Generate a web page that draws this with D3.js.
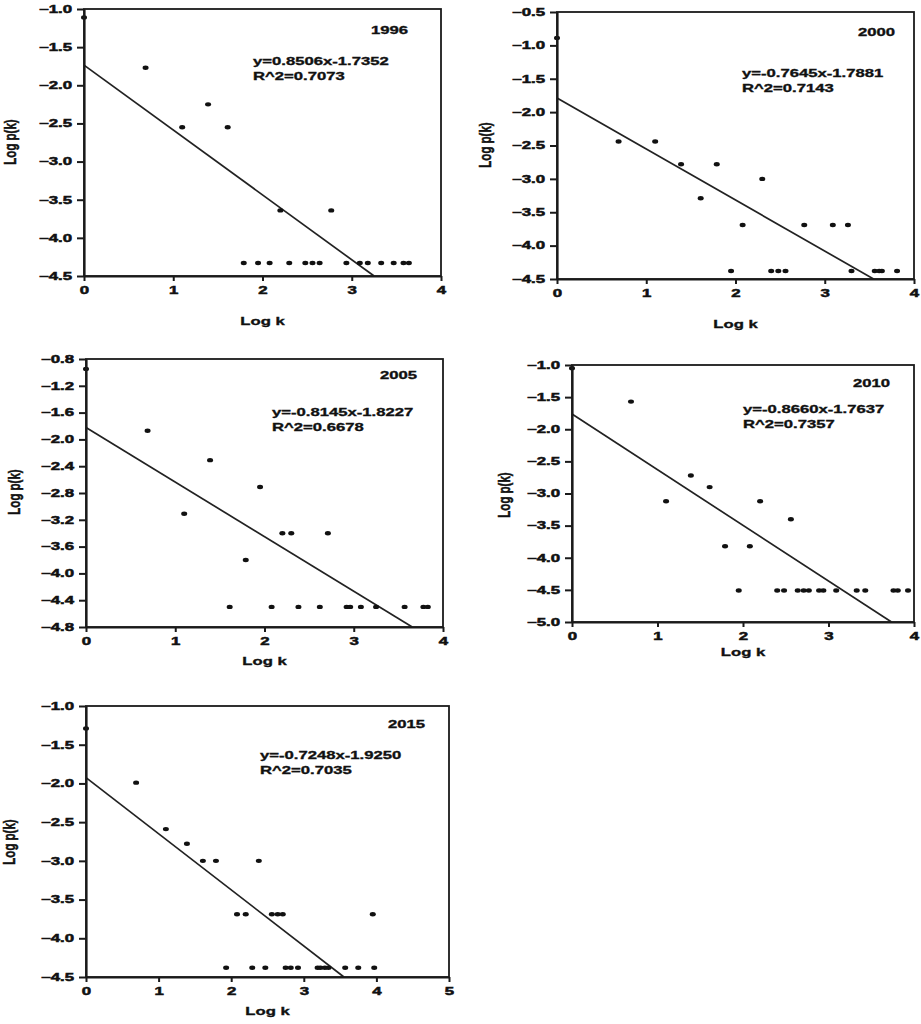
<!DOCTYPE html>
<html><head><meta charset="utf-8">
<script src="https://cdn.jsdelivr.net/npm/d3@7"></script>
<style>
body{margin:0;background:#fff}
svg{display:block}
text{font-family:"Liberation Sans",Arial,sans-serif;font-weight:bold;fill:#111;stroke:#111;stroke-width:0.35px}
</style>
</head><body>
<svg id="c" width="921" height="1024"></svg>
<script>
// ---------- DATA ----------
const years = ["1996", "2000", "2005", "2010", "2015"];
const slopes = [-0.8506, -0.7645, -0.8145, -0.8660, -0.7248];
const intercepts = [-1.7352, -1.7881, -1.8227, -1.7637, -1.9250];
const eqLabels = ["y=0.8506x-1.7352", "y=-0.7645x-1.7881", "y=-0.8145x-1.8227", "y=-0.8660x-1.7637", "y=-0.7248x-1.9250"];
const r2Labels = ["R^2=0.7073", "R^2=0.7143", "R^2=0.6678", "R^2=0.7357", "R^2=0.7035"];
const xDomains = [[0, 4], [0, 4], [0, 4], [0, 4], [0, 5]];
const yDomains = [[-4.5, -1.0], [-4.5, -0.5], [-4.8, -0.8], [-5.0, -1.0], [-4.5, -1.0]];
const xTicks = [[0, 1, 2, 3, 4], [0, 1, 2, 3, 4], [0, 1, 2, 3, 4], [0, 1, 2, 3, 4], [0, 1, 2, 3, 4, 5]];
const yTicks = [
  [-1.0, -1.5, -2.0, -2.5, -3.0, -3.5, -4.0, -4.5],
  [-0.5, -1.0, -1.5, -2.0, -2.5, -3.0, -3.5, -4.0, -4.5],
  [-0.8, -1.2, -1.6, -2.0, -2.4, -2.8, -3.2, -3.6, -4.0, -4.4, -4.8],
  [-1.0, -1.5, -2.0, -2.5, -3.0, -3.5, -4.0, -4.5, -5.0],
  [-1.0, -1.5, -2.0, -2.5, -3.0, -3.5, -4.0, -4.5]
];
const xLabel = "Log k";
const yLabel = "Log p(k)";

const x1996 = [0, 0.69, 1.10, 1.39, 1.61, 2.20, 2.77, 1.79, 1.95, 2.08, 2.30, 2.48, 2.56, 2.64, 2.94, 3.09, 3.18, 3.33, 3.47, 3.58, 3.64];
const y1996 = [-1.11, -1.77, -2.55, -2.25, -2.55, -3.64, -3.64, -4.33, -4.33, -4.33, -4.33, -4.33, -4.33, -4.33, -4.33, -4.33, -4.33, -4.33, -4.33, -4.33, -4.33];

const x2000 = [0, 0.69, 1.10, 1.39, 1.79, 1.61, 2.30, 2.08, 2.77, 3.09, 3.26, 1.95, 2.40, 2.48, 2.56, 3.30, 3.56, 3.61, 3.64, 3.81];
const y2000 = [-0.89, -2.44, -2.44, -2.78, -2.78, -3.29, -3.00, -3.69, -3.69, -3.69, -3.69, -4.38, -4.38, -4.38, -4.38, -4.38, -4.38, -4.38, -4.38, -4.38];

const x2005 = [0, 0.69, 1.39, 1.95, 1.10, 2.20, 2.30, 2.71, 1.79, 1.61, 2.08, 2.38, 2.62, 2.92, 2.96, 3.08, 3.25, 3.57, 3.78, 3.83];
const y2005 = [-0.95, -1.87, -2.31, -2.71, -3.11, -3.40, -3.40, -3.40, -3.80, -4.50, -4.50, -4.50, -4.50, -4.50, -4.50, -4.50, -4.50, -4.50, -4.50, -4.50];

const x2010 = [0, 0.69, 1.10, 1.39, 1.61, 1.79, 2.08, 2.20, 2.56, 1.95, 2.40, 2.48, 2.64, 2.71, 2.77, 2.89, 2.94, 3.09, 3.33, 3.43, 3.76, 3.81, 3.93];
const y2010 = [-1.05, -1.57, -3.12, -2.72, -2.90, -3.82, -3.82, -3.12, -3.40, -4.51, -4.51, -4.51, -4.51, -4.51, -4.51, -4.51, -4.51, -4.51, -4.51, -4.51, -4.51, -4.51, -4.51];

const x2015 = [0, 0.69, 1.10, 1.39, 1.61, 1.79, 2.38, 2.08, 2.20, 2.56, 2.64, 2.71, 3.95, 1.93, 2.29, 2.47, 2.75, 2.82, 2.92, 3.19, 3.23, 3.29, 3.34, 3.57, 3.75, 3.97];
const y2015 = [-1.29, -1.99, -2.59, -2.78, -3.00, -3.00, -3.00, -3.69, -3.69, -3.69, -3.69, -3.69, -3.69, -4.38, -4.38, -4.38, -4.38, -4.38, -4.38, -4.38, -4.38, -4.38, -4.38, -4.38, -4.38, -4.38];

const xSeries = [x1996, x2000, x2005, x2010, x2015];
const ySeries = [y1996, y2000, y2005, y2010, y2015];

// ---------- LAYOUT ----------
const frames = [
  {l: 84,  r: 441, t: 9,   b: 276, ylx: 10,  yly: 142, xlb: 325,  yearR: 408, yearB: 34,  eqX: 253, eqB: 65},
  {l: 557, r: 914, t: 12,  b: 279, ylx: 485, yly: 145, xlb: 328,  yearR: 895, yearB: 36,  eqX: 742, eqB: 77},
  {l: 86,  r: 443, t: 359, b: 627, ylx: 14,  yly: 492, xlb: 665,  yearR: 417, yearB: 379, eqX: 272, eqB: 416},
  {l: 572, r: 914, t: 365, b: 622, ylx: 504, yly: 495, xlb: 656,  yearR: 890, yearB: 387, eqX: 743, eqB: 413},
  {l: 86,  r: 449, t: 706, b: 977, ylx: 9,   yly: 842, xlb: 1015, yearR: 425, yearB: 728, eqX: 260, eqB: 759}
];
const FS = 11.5, SX = 1.45;      // label font size & horizontal stretch
const TFS = 10.5, TSX = 1.6;     // tick font
const ink = "#1a1a1a";

const svg = d3.select("#c");

frames.forEach((f, i) => {
  const x = d3.scaleLinear().domain(xDomains[i]).range([f.l, f.r]);
  const y = d3.scaleLinear().domain(yDomains[i]).range([f.b, f.t]);
  const g = svg.append("g");

  // regression line (from x=0 until it leaves the bottom of the plot)
  const m = slopes[i], c = intercepts[i];
  const yMin = yDomains[i][0];
  const xEnd = Math.min(xDomains[i][1], (yMin - c) / m);
  g.append("line")
    .attr("x1", x(0)).attr("y1", y(c))
    .attr("x2", x(xEnd)).attr("y2", y(m * xEnd + c))
    .attr("stroke", "#222").attr("stroke-width", 1.7);

  // points
  g.append("g").selectAll("ellipse")
    .data(d3.zip(xSeries[i], ySeries[i]))
    .join("ellipse")
    .attr("cx", d => x(d[0])).attr("cy", d => y(d[1]))
    .attr("rx", 3).attr("ry", 2.2)
    .attr("fill", "#111");

  // frame (top/right)
  g.append("rect")
    .attr("x", f.l).attr("y", f.t)
    .attr("width", f.r - f.l).attr("height", f.b - f.t)
    .attr("fill", "none").attr("stroke", ink).attr("stroke-width", 1.8);

  // axes
  const ax = g.append("g").attr("transform", `translate(0,${f.b})`)
    .call(d3.axisBottom(x).tickValues(xTicks[i]).tickFormat(d3.format("d"))
      .tickSize(5).tickSizeOuter(0).tickPadding(6));
  const ay = g.append("g").attr("transform", `translate(${f.l},0)`)
    .call(d3.axisLeft(y).tickValues(yTicks[i]).tickFormat(d3.format(".1f"))
      .tickSize(7).tickSizeOuter(0));
  [ax, ay].forEach(a => {
    a.select(".domain").attr("stroke", ink).attr("stroke-width", 2.2);
    a.selectAll(".tick line").attr("stroke", ink).attr("stroke-width", 2);
    a.selectAll(".tick text").attr("font-size", TFS).attr("fill", "#111")
      .style("font-family", '"Liberation Sans",Arial,sans-serif').style("font-weight", "bold")
      .style("stroke", "#111").style("stroke-width", "0.5px");
  });
  ax.selectAll(".tick text").attr("transform", `scale(${TSX},1)`);
  ay.selectAll(".tick text").attr("x", -12 / TSX).attr("transform", `scale(${TSX},1)`);

  // x label
  g.append("text")
    .attr("transform", `translate(${(f.l + f.r) / 2},${f.xlb}) scale(${SX},1)`)
    .attr("text-anchor", "middle").attr("font-size", FS).text(xLabel);

  // y label
  g.append("text")
    .attr("transform", `translate(${f.ylx},${f.yly}) rotate(-90) scale(1,${SX})`)
    .attr("text-anchor", "middle").attr("dy", "0.35em").attr("font-size", FS).text(yLabel);

  // year
  g.append("text")
    .attr("transform", `translate(${f.yearR},${f.yearB}) scale(${SX},1)`)
    .attr("text-anchor", "end").attr("font-size", FS).text(years[i]);

  // equation + R^2
  g.append("text")
    .attr("transform", `translate(${f.eqX},${f.eqB}) scale(${SX},1)`)
    .attr("font-size", FS).text(eqLabels[i]);
  g.append("text")
    .attr("transform", `translate(${f.eqX},${f.eqB + 15}) scale(${SX},1)`)
    .attr("font-size", FS).text(r2Labels[i]);
});
</script>
</body></html>
